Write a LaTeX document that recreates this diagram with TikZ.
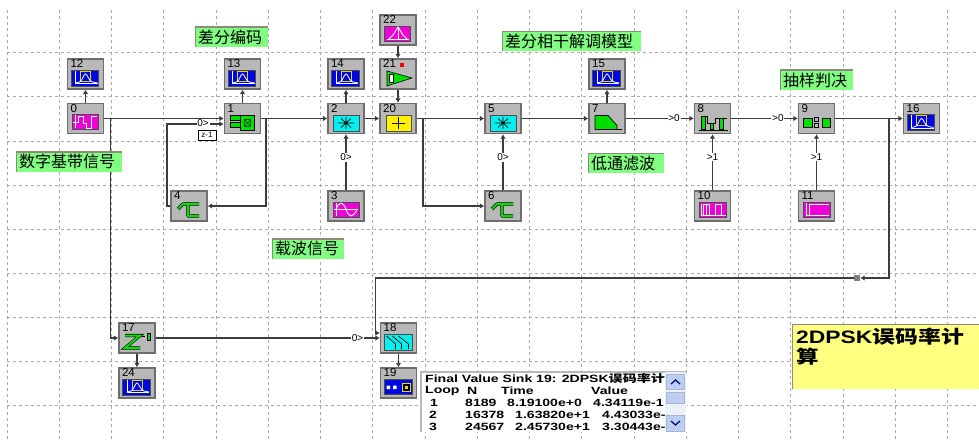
\documentclass[tikz,border=0pt]{standalone}
\usepackage{fontspec}
\setmainfont{Liberation Sans}
\newfontfamily\cjk{Noto Sans CJK SC}
\usetikzlibrary{arrows.meta}
\definecolor{blockgray}{HTML}{B8B8B8}
\definecolor{blockedge}{HTML}{6E6E6E}
\definecolor{gridgray}{HTML}{ABABAB}
\definecolor{wiregray}{HTML}{3C3C3C}
\definecolor{notegreen}{HTML}{80FF80}
\definecolor{noteyellow}{HTML}{FFFF80}
\definecolor{noteedge}{HTML}{8C8C78}
\definecolor{srcpink}{HTML}{F000D8}
\definecolor{scopeblue}{HTML}{0008E0}
\definecolor{opcyan}{HTML}{00F0F0}
\definecolor{opgreen}{HTML}{00E000}
\definecolor{barblue}{HTML}{BCCEF2}
\newcommand{\wide}[1]{\scalebox{1.34}[1]{#1}}
\tikzset{
  scopeicon/.pic={
    \fill[scopeblue,draw=black!70,line width=.6pt] (-14.5,-4) rectangle (13,12);
    \draw[yellow!85!black,line width=.9pt] (-5,-3) rectangle (5,7);
    \draw[white,line width=.8pt] (-10,-3)--(-10,9.5)--(12,9.5);
    \draw[white,line width=.8pt] (-10,9)--(-6,8) .. controls (-3,7) and (-2,0) .. (0,0) .. controls (2,0) and (3,7) .. (7,8)--(12,9);},
  pulseicon/.pic={
    \fill[srcpink,draw=black!70,line width=.6pt] (-13.5,-4.5) rectangle (13,11);
    \draw[white,line width=.9pt] (-10.5,-3.5)--(-10.5,10);
    \draw[white,line width=.9pt] (-13,3.5)--(-7,3.5)--(-7,-2)--(-2,-2)--(-2,4.5)--(1,4.5)--(1,9.5)--(6,9.5)--(6,-2)--(11,-2);},
  sineicon/.pic={
    \fill[srcpink,draw=black!70,line width=.6pt] (-13,-4) rectangle (13,11);
    \draw[white,line width=.9pt] (-10,-3)--(-10,10) (-12,3.5)--(12,3.5);
    \draw[white,line width=.9pt] (-10,3.5) .. controls (-7,-5) and (-3,-5) .. (0,3.5) .. controls (3,12) and (7,12) .. (11,3.5);},
  gaussicon/.pic={
    \fill[srcpink,draw=black!70,line width=.6pt] (-14,-4) rectangle (12.5,11);
    \draw[white,line width=.9pt] (-11,9)--(11,9) (0,-3)--(0,9);
    \draw[white,line width=.9pt] (-9,9)--(-5,5)--(0,-3)--(5,5)--(9,9);},
  trainicon/.pic={
    \fill[srcpink,draw=black!70,line width=.6pt] (-13,-4) rectangle (14,11);
    \draw[white,line width=.9pt] (-11,-2)--(-11,9)--(13,9);
    \draw[white,line width=.9pt] (-9,9)--(-9,-2)--(-3,-2)--(-3,9) (-6,-2)--(-6,9) (3,9)--(3,-2)--(9,-2)--(9,9);},
  stepicon/.pic={
    \fill[srcpink,draw=black!70,line width=.6pt] (-13,-4) rectangle (14,11);
    \draw[white,line width=.9pt] (-10,-3)--(-10,9)--(12,9) (-7,9)--(-7,-2)--(12,-2);},
  xoricon/.pic={
    \fill[opgreen,draw=black,line width=.5pt] (-12,-3) rectangle (0,1.5) (-12,4) rectangle (0,9);
    \fill[opgreen,draw=black,line width=.8pt] (-2,-3.5) rectangle (12,12);
    \draw[black!70!green,line width=.7pt] (2,1) rectangle (8,8) (2,1)--(8,8) (2,8)--(8,1);},
  delayicon/.pic={
    \draw[black,line width=3.2pt,line join=round] (-11,3)--(-6,-2)--(10,-2) (-1,-2)--(-1,10)--(10,10);
    \draw[opgreen,line width=2pt,line join=round] (-11,3)--(-6,-2)--(10,-2) (-1,-2)--(-1,10)--(10,10);},
  multicon/.pic={
    \fill[opcyan,draw=black!70,line width=.6pt] (-13,-3.5) rectangle (13,12.5);
    \draw[black,line width=.7pt] (-8,4.5)--(8,4.5) (0,-1.5)--(0,10.5) (-5,0)--(5,9) (-5,9)--(5,0);},
  addicon/.pic={
    \fill[yellow,draw=black!70,line width=.6pt] (-12,-3.5) rectangle (13,12.5);
    \draw[black,line width=.7pt] (-6,4.5)--(7,4.5) (.5,-1.5)--(.5,10.5);},
  gainicon/.pic={
    \fill[red] (2,-11) rectangle (6,-7);
    \fill[opgreen,draw=black,line width=.6pt] (-11,-3)--(-11,12)--(14,4)--cycle;
    \fill[white,draw=black,line width=.5pt] (-9,0) rectangle (-5,8);},
  filtericon/.pic={
    \fill[opgreen] (-12,-3)--(1,-3)--(10,7)--(10,11)--(-12,11)--cycle;
    \draw[black,line width=.7pt] (-12,-3)--(-12,11)--(15,11) (-12,-3)--(1,-3)--(10,7)--(10,11);},
  baricon/.pic={
    \fill[opgreen,draw=black,line width=.5pt] (-11,-2.5) rectangle (-7,11) (-2.5,4.5) rectangle (1,11) (6.5,0) rectangle (10.5,11);
    \draw[black,line width=.7pt] (-14,11.5)--(15,11.5) (-7,-2.5)--(-5,-2.5)--(-5,4.5)--(-2.5,4.5) (1,4.5)--(3,4.5)--(3,0)--(6.5,0) (10.5,0)--(14,0);},
  decisionicon/.pic={
    \fill[opgreen,draw=black,line width=.6pt] (-13,0) rectangle (-4,9) (6,0) rectangle (14,9);
    \fill[blockgray,draw=black,line width=.6pt] (-2,-1) rectangle (2,3) (-2,5) rectangle (2,9);},
  zicon/.pic={
    \draw[black,line width=3.2pt] (-12,-2.5)--(3,-2.5)--(-12,10)--(3,10);
    \draw[opgreen,line width=2pt] (-12,-2.5)--(3,-2.5)--(-12,10)--(3,10);
    \fill[black] (5,-2.5) rectangle (7.5,-1);
    \fill[opgreen,draw=black,line width=.5pt] (10,-5) rectangle (13,2.5);},
  ratioicon/.pic={
    \fill[opcyan,draw=black!70,line width=.6pt] (-14,-4) rectangle (14,12);
    \draw[black,line width=.7pt] (-12,-2)--(-3,6)--(-3,11) (-6,-2)--(3,6)--(3,11) (0,-2)--(10,6)--(10,11);},
  sinkicon/.pic={
    \fill[scopeblue,draw=black!70,line width=.6pt] (-14,-4) rectangle (14,11);
    \fill[white] (-12,2.5) rectangle (-8.5,6) (-5.5,2.5) rectangle (-2,6);
    \draw[yellow!90!black,line width=1pt,fill=black] (3.5,.5) rectangle (12,8);
    \fill[yellow!90!black] (6,3) rectangle (9.5,5.5);},
}
\begin{document}
\begin{tikzpicture}[x=1pt,y=-1pt,>=Latex,
  blocknum/.style={font=\fontsize{11.5}{12}\selectfont,inner sep=0pt,anchor=north west,xshift=3.5pt,yshift=-1pt},
  blockbox/.style={draw=blockedge,fill=blockgray,line width=1.3pt,minimum width=36pt,minimum height=30pt,inner sep=0pt,outer sep=.6pt,label={[blocknum]north west:#1}},
  gridline/.style={draw=gridgray,line width=1pt,dash pattern=on 3pt off 3pt},
  wire/.style={draw=wiregray,line width=1.15pt},
  link/.style={wire,-{Latex[length=4.5pt,width=5.5pt]}},
  wirelabel/.style={fill=white,inner sep=.8pt,font=\fontsize{10}{11}\selectfont},
  notelabel/.style={fill=notegreen,minimum height=20pt,inner xsep=3pt,inner ysep=0pt,align=left,font=\cjk\fontsize{16}{18}\selectfont,
    path picture={\draw[noteedge,line width=2pt] (path picture bounding box.south west)--(path picture bounding box.north west)--(path picture bounding box.north east);}},
  sinktext/.style={anchor=west,inner sep=0pt,font=\bfseries\fontsize{10.5}{12}\selectfont}]
\useasboundingbox (0,0) rectangle (979,441);
% grid
\foreach \xx in {7,59.25,...,950} {\draw[gridline] (\xx,10)--(\xx,441);}
\foreach \yy in {53,97,...,410} {\draw[gridline] (7,\yy)--(979,\yy);}
% blocks
\node[blockbox=12] (b12) at (85.5,74) {}; \pic at (b12) {scopeicon};
\node[blockbox=0] (b0) at (85.5,118.5) {}; \pic at (b0) {pulseicon};
\node[blockbox=13] (b13) at (242.5,74) {}; \pic at (b13) {scopeicon};
\node[blockbox=1] (b1) at (242.5,118.5) {}; \pic at (b1) {xoricon};
\node[blockbox=4] (b4) at (189,206) {}; \pic at (b4) {delayicon};
\node[blockbox=14] (b14) at (346,74) {}; \pic at (b14) {scopeicon};
\node[blockbox=2] (b2) at (346,118.5) {}; \pic at (b2) {multicon};
\node[blockbox=3] (b3) at (346,206) {}; \pic at (b3) {sineicon};
\node[blockbox=22] (b22) at (398,30) {}; \pic at (b22) {gaussicon};
\node[blockbox=21] (b21) at (398,74) {}; \pic at (b21) {gainicon};
\node[blockbox=20] (b20) at (398,118.5) {}; \pic at (b20) {addicon};
\node[blockbox=5] (b5) at (503,118.5) {}; \pic at (b5) {multicon};
\node[blockbox=6] (b6) at (503,206) {}; \pic at (b6) {delayicon};
\node[blockbox=15] (b15) at (607,74) {}; \pic at (b15) {scopeicon};
\node[blockbox=7] (b7) at (607,118.5) {}; \pic at (b7) {filtericon};
\node[blockbox=8] (b8) at (712.5,118.5) {}; \pic at (b8) {baricon};
\node[blockbox=10] (b10) at (712.5,206) {}; \pic at (b10) {trainicon};
\node[blockbox=9] (b9) at (816.5,118.5) {}; \pic at (b9) {decisionicon};
\node[blockbox=11] (b11) at (816.5,206) {}; \pic at (b11) {stepicon};
\node[blockbox=16] (b16) at (921.5,118.5) {}; \pic at (b16) {scopeicon};
\node[blockbox=17] (b17) at (137,338) {}; \pic at (b17) {zicon};
\node[blockbox=24] (b24) at (137,383) {}; \pic at (b24) {scopeicon};
\node[blockbox=18] (b18) at (398.5,338) {}; \pic at (b18) {ratioicon};
\node[blockbox=19] (b19) at (398.5,383) {}; \pic at (b19) {sinkicon};
\node[fill=gray,minimum size=6pt,inner sep=0pt] (tap) at (857,278) {};
% turning points
\coordinate (j0) at (110.5,118.5);
\coordinate (j1) at (266,118.5);
\coordinate (t4) at (167,206);
\coordinate (j20) at (423,118.5);
\coordinate (j9) at (889,118.5);
\coordinate (t18) at (375.5,278);
% connectors
\draw[link] (b0)--(b12);
\draw[link] (b1)--(b13);
\draw[link] (b2)--(b14);
\draw[link] (b7)--(b15);
\draw[link] (b22)--(b21);
\draw[link] (b21)--(b20);
\draw[link] (b0)--(b1);
\draw[link] (b4.west)--(t4)|-([yshift=-5.5pt]b1.west);
\draw[link] (b1.east)--(j1)|-(b4.east);
\draw[link] (b1)--(b2);
\draw[link] (b2)--(b20);
\draw[link] (b20)--(b5);
\draw[link] (j20)|-(b6.west);
\draw[link] (b5)--(b7);
\draw[link] (b3)--node[wirelabel,pos=.59] (l3) {0>} (b2);
\draw[link] (b6)--node[wirelabel,pos=.59] (l6) {0>} (b5);
\draw[link] (b10)--node[wirelabel,pos=.59] (l10) {>1} (b8);
\draw[link] (b11)--node[wirelabel,pos=.59] (l11) {>1} (b9);
\draw[link] (b7)--node[wirelabel,pos=.71] (l7) {>0} (b8);
\draw[link] (b8)--node[wirelabel,pos=.70] (l8) {>0} (b9);
\draw[link] (b9)--(b16);
\draw[link] (j9)|-(tap);
\draw[link] (tap)--(t18)|-([yshift=5pt]b18.west);
\draw[link] (j0)|-(b17.west);
\draw[link] (b17)--(b24);
\draw[link] (b18)--(b19);
\draw[link] (b17)--node[wirelabel,pos=.90] (l17) {0>} (b18);
\node[wirelabel] (l1) at (203,123.5) {0>};
\node[draw=black,fill=white,line width=.6pt,minimum width=18pt,minimum height=10pt,inner sep=0pt,font=\fontsize{8}{9}\selectfont] (z1) at (207,135) {z-1};
% notes
\node[notelabel,text width=67pt] (n1) at (231.5,37) {差分编码};
\node[notelabel,text width=100pt] (n2) at (69,161.5) {数字基带信号};
\node[notelabel,text width=133pt] (n3) at (571.5,41.5) {差分相干解调模型};
\node[notelabel,text width=70pt] (n4) at (626,163) {低通滤波};
\node[notelabel,text width=67pt] (n5) at (816.5,80) {抽样判决};
\node[notelabel,text width=66pt] (n6) at (308,248.5) {载波信号};
\node[fill=noteyellow,draw=none,minimum width=187pt,minimum height=65pt,inner sep=0pt,anchor=north west,
  path picture={\draw[noteedge,line width=2pt] (path picture bounding box.south west)--(path picture bounding box.north west)--(path picture bounding box.north east);}] (note) at (792,324) {};
\node[anchor=north west,inner sep=0pt,align=left,font=\bfseries\fontsize{18}{20}\selectfont] (notetext) at (796,328) {\scalebox{1.27}[1]{2DPSK{\cjk 误码率计}}\\\scalebox{1.25}[1]{\cjk 算}};
% sink window
\node[fill=white,minimum width=267pt,minimum height=61pt,inner sep=0pt,anchor=north west,
  path picture={\draw[blockgray,line width=3pt] (path picture bounding box.south west)--(path picture bounding box.north west)--(path picture bounding box.north east);}] (win) at (420,371) {};
\node[sinktext] (w0) at (425,379) {\wide{Final Value Sink 19: 2DPSK{\cjk 误码率计}}};
\node[sinktext] (h1) at (425,391) {\wide{Loop}};
\node[sinktext] (h2) at (467,391) {\wide{N}};
\node[sinktext] (h3) at (501,391) {\wide{Time}};
\node[sinktext] (h4) at (591,391) {\wide{Value}};
\node[sinktext] (r1a) at (430,403) {\wide{1}};
\node[sinktext] (r1b) at (465,403) {\wide{8189}};
\node[sinktext] (r1c) at (507,403) {\wide{8.19100e+0}};
\node[sinktext] (r1d) at (593,403) {\wide{4.34119e-1}};
\node[sinktext] (r2a) at (429,415) {\wide{2}};
\node[sinktext] (r2b) at (465,415) {\wide{16378}};
\node[sinktext] (r2c) at (515,415) {\wide{1.63820e+1}};
\node[sinktext] (r2d) at (602,415) {\wide{4.43033e-}};
\node[sinktext] (r3a) at (429,427) {\wide{3}};
\node[sinktext] (r3b) at (465,427) {\wide{24567}};
\node[sinktext] (r3c) at (515,427) {\wide{2.45730e+1}};
\node[sinktext] (r3d) at (602,427) {\wide{3.30443e-}};
\node[fill=barblue!30,minimum width=21pt,minimum height=59pt,inner sep=0pt,anchor=north west] (track) at (665,372) {};
\node[fill=barblue,draw=barblue!70!gray,minimum width=18pt,minimum height=15pt,inner sep=0pt,anchor=north] (up) at (675.5,374) {};
\node[fill=barblue,draw=barblue!70!gray,minimum width=18pt,minimum height=11pt,inner sep=0pt,anchor=north] (thumb) at (675.5,392) {};
\node[fill=barblue,draw=barblue!70!gray,minimum width=18pt,minimum height=16pt,inner sep=0pt,anchor=north] (down) at (675.5,415) {};
\draw[black!60!blue,line width=1.2pt] (671,384)--(675.5,380)--(680,384);
\draw[black!60!blue,line width=1.2pt] (671,421)--(675.5,425)--(680,421);
\end{tikzpicture}
\end{document}
